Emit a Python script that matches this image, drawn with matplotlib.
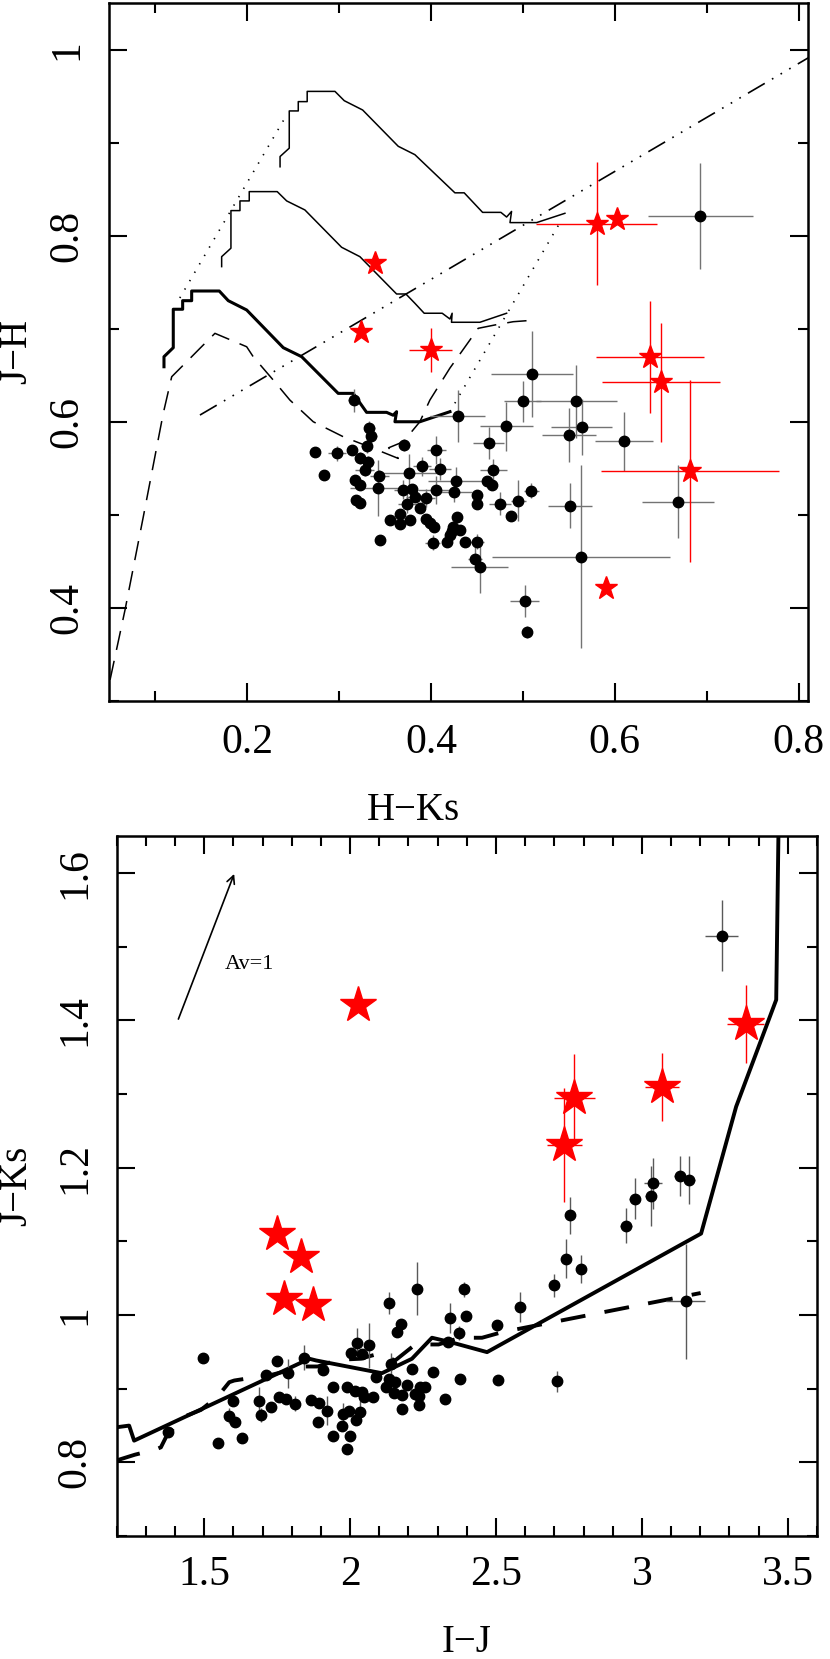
import matplotlib
matplotlib.use('Agg')
from matplotlib import pyplot as plt

plt.rcParams['font.family'] = ['Liberation Serif', 'DejaVu Serif']
plt.rcParams['lines.scale_dashes'] = False

# ---------------- top panel: J-H vs H-Ks ----------------
# model sequences
giant1_hk = [0.236, 0.236, 0.246, 0.246, 0.2558, 0.2558, 0.2655, 0.2655, 0.2957, 0.3058, 0.3258,
             0.3645, 0.3826, 0.4261, 0.4362, 0.4562, 0.4761, 0.4823, 0.4877, 0.486, 0.4967, 0.5149, 0.5457]
giant1_jh = [0.874, 0.885, 0.894, 0.934, 0.934, 0.944, 0.944, 0.955, 0.955, 0.945, 0.935,
             0.896, 0.887, 0.846, 0.846, 0.825, 0.825, 0.820, 0.826, 0.814, 0.814, 0.814, 0.824]
giant2_hk = [0.1725, 0.1725, 0.1826, 0.1826, 0.1924, 0.1924, 0.2025, 0.2025, 0.2329, 0.2432, 0.2630,
             0.3029, 0.3228, 0.3627, 0.3728, 0.3826, 0.3927, 0.4123, 0.4207, 0.4231, 0.4224, 0.4334,
             0.4533, 0.4823]
giant2_jh = [0.7667, 0.7774, 0.7865, 0.8269, 0.8269, 0.8373, 0.8373, 0.8473, 0.8473, 0.8373, 0.8276,
             0.7875, 0.7774, 0.7373, 0.7373, 0.7273, 0.7166, 0.7166, 0.7104, 0.7166, 0.7069, 0.7069,
             0.7069, 0.7166]
giant3_hk = [0.1098, 0.1098, 0.1199, 0.1199, 0.1301, 0.1301, 0.1399, 0.1399, 0.1699, 0.1797, 0.1997,
             0.2395, 0.2595, 0.2992, 0.3155, 0.3301, 0.3518, 0.359, 0.3627, 0.3609, 0.3699, 0.3880, 0.4207]
giant3_jh = [0.6591, 0.6699, 0.6796, 0.7209, 0.7209, 0.7301, 0.7301, 0.7405, 0.7405, 0.7301, 0.7201,
             0.6796, 0.6699, 0.6305, 0.6305, 0.6101, 0.6101, 0.607, 0.6108, 0.600, 0.600, 0.600, 0.6108]
dwarf_hk = [0.048, 0.0511, 0.0674, 0.0873, 0.1090, 0.1182, 0.1345, 0.1489, 0.1652, 0.1779, 0.1997,
            0.2068, 0.2286, 0.2467, 0.2721, 0.3047, 0.3373, 0.3645, 0.3540, 0.3700, 0.3880, 0.3989,
            0.4207, 0.4424, 0.4514, 0.4696, 0.4895, 0.5100]
dwarf_jh = [0.29, 0.3223, 0.3976, 0.4978, 0.609, 0.6484, 0.6645, 0.6789, 0.6950, 0.6897, 0.6806,
            0.6699, 0.6448, 0.6233, 0.6000, 0.5839, 0.5714, 0.5606, 0.5720, 0.5785, 0.6000, 0.6233,
            0.6577, 0.6878, 0.7004, 0.7040, 0.7075, 0.7090]
redd1_hk = [0.127, 0.241]
redd1_jh = [0.733, 0.926]
redd2_hk = [0.4207, 0.5424]
redd2_jh = [0.6108, 0.8175]
ctts_hk = [0.1489, 0.8110]
ctts_jh = [0.6072, 0.9915]

# cluster members (black dots) with errors
hk = [0.316, 0.429, 0.333, 0.335, 0.330, 0.371, 0.274, 0.298, 0.314, 0.323, 0.332, 0.328, 0.406,
      0.284, 0.344, 0.376, 0.390, 0.410, 0.427, 0.317, 0.323, 0.342, 0.370, 0.379, 0.383, 0.395,
      0.406, 0.425, 0.374, 0.388, 0.319, 0.323, 0.450, 0.450, 0.366, 0.355, 0.366, 0.377, 0.395,
      0.399, 0.403, 0.428, 0.424, 0.432, 0.421, 0.417, 0.402, 0.345, 0.437, 0.450, 0.448,
      0.510, 0.500, 0.558, 0.482, 0.550, 0.564, 0.463, 0.610, 0.468, 0.461, 0.466, 0.475, 0.495,
      0.509, 0.487, 0.551, 0.669, 0.4225, 0.453, 0.563, 0.502, 0.504, 0.693]
jh = [0.623, 0.606, 0.593, 0.585, 0.574, 0.575, 0.568, 0.566, 0.570, 0.561, 0.557, 0.548, 0.570,
      0.543, 0.542, 0.545, 0.552, 0.549, 0.536, 0.537, 0.532, 0.529, 0.527, 0.528, 0.519, 0.518,
      0.527, 0.524, 0.512, 0.507, 0.516, 0.513, 0.521, 0.512, 0.501, 0.494, 0.490, 0.494, 0.496,
      0.491, 0.487, 0.498, 0.487, 0.484, 0.478, 0.471, 0.470, 0.473, 0.471, 0.471, 0.453,
      0.651, 0.622, 0.622, 0.595, 0.586, 0.594, 0.577, 0.579, 0.548, 0.536, 0.532, 0.512, 0.515,
      0.526, 0.499, 0.510, 0.514, 0.483, 0.444, 0.455, 0.4075, 0.374, 0.8215]
hk_err = [0.006, 0.030, 0.006, 0.006, 0.006, 0.006, 0.0, 0.010, 0.005, 0.006, 0.006, 0.010, 0.010,
          0.0, 0.010, 0.030, 0.010, 0.012, 0.030, 0.0, 0.0, 0.030, 0.010, 0.0, 0.010, 0.010,
          0.020, 0.020, 0.010, 0.0, 0.0, 0.0, 0.0, 0.0, 0.0, 0.0, 0.0, 0.0, 0.0,
          0.0, 0.0, 0.0, 0.0, 0.0, 0.0, 0.0, 0.008, 0.0, 0.0, 0.008, 0.008,
          0.045, 0.020, 0.044, 0.029, 0.029, 0.033, 0.017, 0.032, 0.015, 0.0, 0.0, 0.012, 0.008,
          0.008, 0.0, 0.024, 0.039, 0.0, 0.031, 0.097, 0.016, 0.005, 0.0575]
jh_err = [0.012, 0.028, 0.008, 0.008, 0.008, 0.006, 0.0, 0.008, 0.005, 0.006, 0.006, 0.006, 0.015,
          0.0, 0.006, 0.020, 0.010, 0.012, 0.015, 0.0, 0.0, 0.030, 0.010, 0.0, 0.0, 0.010,
          0.015, 0.010, 0.010, 0.0, 0.0, 0.0, 0.0, 0.0, 0.0, 0.0, 0.0, 0.0, 0.0,
          0.0, 0.0, 0.0, 0.0, 0.0, 0.0, 0.0, 0.008, 0.0, 0.0, 0.008, 0.012,
          0.046, 0.022, 0.039, 0.026, 0.029, 0.030, 0.017, 0.032, 0.012, 0.0, 0.0, 0.012, 0.022,
          0.008, 0.0, 0.024, 0.039, 0.0, 0.028, 0.098, 0.017, 0.006, 0.057]

# candidate objects (red stars)
hk_star = [0.3391, 0.3239, 0.3997, 0.5801, 0.6025, 0.638, 0.650, 0.6815, 0.5902]
jh_star = [0.7703, 0.6961, 0.6771, 0.8126, 0.8180, 0.6696, 0.6424, 0.5473, 0.4215]
hk_star_err = [0.0, 0.0, 0.0236, 0.066, 0.0, 0.059, 0.064, 0.097, 0.0]
jh_star_err = [0.0, 0.0, 0.0233, 0.066, 0.0, 0.060, 0.064, 0.098, 0.0]

# ---------------- bottom panel: J-Ks vs I-J ----------------
model_ij = [1.199, 1.2426, 1.2597, 1.8604, 1.8834, 2.1089, 2.2119, 2.2805, 2.3436, 2.4693,
            3.2029, 3.3230, 3.4603, 3.4682]
model_jk = [0.8476, 0.8499, 0.8295, 0.9406, 0.9383, 0.9210, 0.9406, 0.9691, 0.9632, 0.9496,
            1.1105, 1.2827, 1.4277, 1.66]
model2_ij = [1.197, 1.2622, 1.3308, 1.3514, 1.3686, 1.4259, 1.4887, 1.5460, 1.5858, 1.6030,
             1.7348, 1.8432, 1.8892, 1.9579, 2.0344, 2.0972, 2.1545, 2.2232, 2.3032, 2.3776,
             2.4521, 2.5208, 3.2014]
model2_jk = [0.8023, 0.8104, 0.8172, 0.8204, 0.8340, 0.8612, 0.8712, 0.8893, 0.9088, 0.9111,
             0.9192, 0.9301, 0.9301, 0.9392, 0.9406, 0.9474, 0.9383, 0.9600, 0.9600, 0.9691,
             0.9691, 0.9767, 1.0298]

ij = [1.4966, 1.3771, 1.5487, 1.6301, 1.5985, 1.5855, 1.6061, 1.6877, 1.6956, 1.7300, 1.7128,
      1.7502, 1.7856, 1.7574, 1.7814, 1.8120, 1.8429, 1.9064, 1.8662, 1.8947, 1.9218, 1.8913,
      1.9428, 1.9407, 1.9905, 1.9750, 1.9977, 1.9719, 2.0008, 1.9891, 2.0018, 2.0231, 2.0402,
      2.0646, 2.0162, 2.0402, 2.0344, 2.0206, 2.0492, 2.0780, 2.0876, 2.1237, 2.1316, 2.1545,
      2.1487, 2.1775, 2.1775, 2.1408, 2.1339, 2.1604, 2.1751, 2.2105, 2.2290, 2.2232, 2.2404,
      2.2575, 2.2345, 2.2369, 2.2832, 2.3262, 2.3914, 2.3409, 2.3982, 2.3718, 2.3340, 2.5036,
      2.5812, 2.3776, 2.5063, 2.6979, 2.7525, 2.7415, 2.7919, 2.9464, 2.9749, 3.0298, 3.0377,
      3.1304, 3.1612, 3.1499, 3.2735, 2.7095, 2.1934]
jk = [0.9419, 0.8408, 0.8264, 0.8332, 0.8835, 0.8635, 0.8551, 0.8829, 0.8644, 0.8757, 0.9192,
      0.9372, 0.9206, 0.8893, 0.8862, 0.8794, 0.9419, 0.9256, 0.8848, 0.8802, 0.8703, 0.8553,
      0.9029, 0.8363, 0.9029, 0.8658, 0.8703, 0.8488, 0.8363, 0.8186, 0.9485, 0.9625, 0.9474,
      0.9587, 0.8975, 0.8957, 0.8685, 0.8576, 0.8893, 0.8893, 0.9156, 0.9029, 0.9134, 0.9088,
      0.8945, 0.8918, 0.8730, 0.9338, 1.0162, 0.9763, 0.9876, 0.9270, 1.0358, 0.8930, 0.9019,
      0.9019, 0.8907, 0.8785, 0.9233, 0.8856, 1.0349, 0.9961, 0.9985, 0.9754, 0.9638, 0.9859,
      1.0108, 0.9134, 0.9111, 1.0402, 1.1354, 1.0766, 1.0620, 1.1214, 1.1576, 1.1616, 1.1785,
      1.1884, 1.1830, 1.0189, 1.5147, 0.9101, 0.9047]
ij_err = [0.0, 0.0, 0.0, 0.0, 0.0, 0.0, 0.0, 0.0, 0.0, 0.0, 0.0,
          0.0, 0.0, 0.0, 0.0, 0.0, 0.0, 0.0, 0.0, 0.0, 0.0, 0.0,
          0.0, 0.0, 0.0, 0.0, 0.0, 0.0, 0.0, 0.0, 0.0, 0.0, 0.0,
          0.0, 0.0, 0.0, 0.0, 0.0, 0.0, 0.0, 0.0, 0.0, 0.0, 0.0,
          0.0, 0.0, 0.0, 0.0, 0.0, 0.0, 0.0, 0.0, 0.0, 0.0, 0.0,
          0.0, 0.0, 0.0, 0.0, 0.0, 0.0, 0.0, 0.0, 0.0, 0.0, 0.0,
          0.0, 0.0, 0.0, 0.0, 0.0, 0.0, 0.0, 0.02, 0.02, 0.02, 0.03,
          0.02, 0.02, 0.068, 0.056, 0.0, 0.0]
jk_err = [0.0, 0.0, 0.0, 0.0, 0.0, 0.01, 0.0, 0.02, 0.01, 0.0, 0.0,
          0.0, 0.02, 0.0, 0.0, 0.01, 0.017, 0.0, 0.0, 0.0, 0.02, 0.0,
          0.0, 0.0, 0.0, 0.015, 0.0, 0.0, 0.0, 0.0, 0.0, 0.02, 0.0,
          0.03, 0.0, 0.0, 0.015, 0.0, 0.0, 0.0, 0.0, 0.0, 0.0, 0.0,
          0.0, 0.0, 0.0, 0.015, 0.015, 0.0, 0.0, 0.0, 0.036, 0.0, 0.0,
          0.0, 0.0, 0.0, 0.0, 0.0, 0.01, 0.02, 0.0, 0.01, 0.0, 0.0,
          0.02, 0.0, 0.0, 0.016, 0.025, 0.026, 0.019, 0.024, 0.028, 0.041, 0.035,
          0.027, 0.033, 0.078, 0.048, 0.014, 0.0]

ij_star = [2.0286, 1.7506, 1.8319, 1.7746, 1.8721, 2.7689, 2.7346, 3.0699, 3.3558]
jk_star = [1.4209, 1.1105, 1.0787, 1.0212, 1.0130, 1.2941, 1.2306, 1.3090, 1.3951]
ij_star_err = [0.0, 0.0, 0.0, 0.0, 0.0, 0.070, 0.061, 0.058, 0.063]
jk_star_err = [0.0, 0.0, 0.0, 0.0, 0.0, 0.060, 0.077, 0.046, 0.053]


def style_axes(ax, xt, xlabels, yt, ylabels, xpad, ypad):
    for s in ax.spines.values():
        s.set_linewidth(1.8)
    ax.set_xticks(xt)
    ax.set_xticklabels(xlabels, fontsize=30)
    ax.set_yticks(yt)
    ax.set_yticklabels(ylabels, fontsize=30, rotation=90, va='center')
    ax.minorticks_on()
    ax.tick_params(which='both', direction='in', top=True, right=True, width=1.5)
    ax.tick_params(which='major', length=13)
    ax.tick_params(which='minor', length=7)
    ax.tick_params(axis='x', which='major', pad=xpad)
    ax.tick_params(axis='y', which='major', pad=ypad)


fig = plt.figure(figsize=(8.3, 16.59), dpi=100)

# top panel
ax1 = fig.add_axes([0.1313, 0.5775, 0.8422, 0.4207])
ax1.plot(giant1_hk, giant1_jh, color='k', lw=1.1)
ax1.plot(giant2_hk, giant2_jh, color='k', lw=1.1)
ax1.plot(giant3_hk, giant3_jh, color='k', lw=2.2)
ax1.plot(dwarf_hk, dwarf_jh, color='k', lw=1.1, dashes=(14, 8))
ax1.plot(redd1_hk, redd1_jh, color='k', lw=1.2, dashes=(1, 6))
ax1.plot(redd2_hk, redd2_jh, color='k', lw=1.2, dashes=(1, 6))
ax1.plot(ctts_hk, ctts_jh, color='k', lw=1.2, dashes=(14, 6, 1.2, 6, 1.2, 6, 1.2, 6))
ax1.errorbar(hk, jh, xerr=hk_err, yerr=jh_err, fmt='none', ecolor='0.45', elinewidth=1.0)
ax1.plot(hk, jh, 'o', color='k', ms=7.5)
ax1.errorbar(hk_star, jh_star, xerr=hk_star_err, yerr=jh_star_err, fmt='none', ecolor='red',
             elinewidth=1.0)
ax1.plot(hk_star, jh_star, '*', color='red', ms=17, mec='red')
ax1.set_xlim(0.05, 0.81)
ax1.set_ylim(0.3, 1.05)
ax1.xaxis.set_minor_locator(matplotlib.ticker.MultipleLocator(0.1))
ax1.yaxis.set_minor_locator(matplotlib.ticker.MultipleLocator(0.1))
style_axes(ax1, [0.2, 0.4, 0.6, 0.8], ['0.2', '0.4', '0.6', '0.8'],
           [0.4, 0.6, 0.8, 1.0], ['0.4', '0.6', '0.8', '1'], 16, 16)
ax1.xaxis.set_minor_locator(matplotlib.ticker.MultipleLocator(0.1))
ax1.yaxis.set_minor_locator(matplotlib.ticker.MultipleLocator(0.1))

fig.text(413 / 830, 1 - 810 / 1659, 'H\u2212Ks', fontsize=28, ha='center', va='center')
fig.text(17 / 830, 1 - 352 / 1659, 'J\u2212H', fontsize=28, ha='center', va='center', rotation=90)

# bottom panel
ax2 = fig.add_axes([0.1406, 0.0741, 0.8437, 0.4220])
ax2.plot(model_ij, model_jk, color='k', lw=2.8)
ax2.plot(model2_ij, model2_jk, color='k', lw=2.8, dashes=(18, 14))
ax2.errorbar(ij, jk, xerr=ij_err, yerr=jk_err, fmt='none', ecolor='0.35', elinewidth=1.0)
ax2.plot(ij, jk, 'o', color='k', ms=7.5)
ax2.errorbar(ij_star, jk_star, xerr=ij_star_err, yerr=jk_star_err, fmt='none', ecolor='red',
             elinewidth=1.0)
ax2.plot(ij_star, jk_star, '*', color='red', ms=27, mec='red')
ax2.annotate('', xy=(1.606, 1.602), xytext=(1.408, 1.398),
             arrowprops=dict(arrowstyle='->', lw=1.2, color='k', mutation_scale=14))
ax2.text(1.572, 1.47, 'Av=1', fontsize=16)
ax2.set_xlim(1.2, 3.6)
ax2.set_ylim(0.7, 1.65)
style_axes(ax2, [1.5, 2.0, 2.5, 3.0, 3.5], ['1.5', '2', '2.5', '3', '3.5'],
           [0.8, 1.0, 1.2, 1.4, 1.6], ['0.8', '1', '1.2', '1.4', '1.6'], 14, 16)
ax2.xaxis.set_minor_locator(matplotlib.ticker.MultipleLocator(0.1))
ax2.yaxis.set_minor_locator(matplotlib.ticker.MultipleLocator(0.1))

fig.text(467 / 830, 1 - 1643 / 1659, 'I\u2212J', fontsize=28, ha='center', va='center')
fig.text(17 / 830, 1 - 1186 / 1659, 'J\u2212Ks', fontsize=28, ha='center', va='center', rotation=90)

fig.savefig('out.png', dpi=100)
